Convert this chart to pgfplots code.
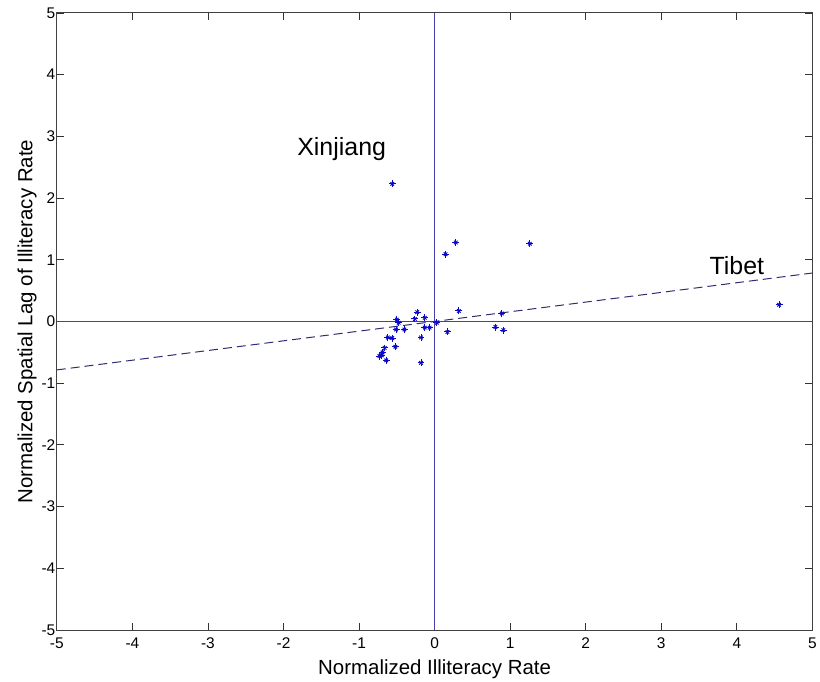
\documentclass[border=0pt]{standalone}
\usepackage{fontspec}
\setmainfont{Liberation Sans}
\usepackage{pgfplots}
\usepackage{pgfplotstable}
\pgfplotsset{compat=1.18}

\definecolor{linenavy}{RGB}{70,65,170}
\definecolor{dashnavy}{RGB}{45,45,115}
\definecolor{markblue}{RGB}{10,10,200}

\pgfplotstableread{
x y
-0.56 2.23
0.28 1.28
0.145 1.09
1.26 1.26
0.32 0.17
0.89 0.13
0.805 -0.09
0.91 -0.14
0.17 -0.17
0.03 -0.02
-0.066 -0.10
-0.13 -0.10
-0.13 0.06
-0.23 0.15
-0.26 0.04
-0.18 -0.26
-0.18 -0.67
-0.50 0.03
-0.475 -0.02
-0.40 -0.13
-0.51 -0.13
-0.62 -0.26
-0.56 -0.27
-0.52 -0.41
-0.66 -0.43
-0.69 -0.50
-0.73 -0.56
-0.64 -0.63
-0.70 -0.55
4.56 0.27
}\moran

\begin{document}
\begin{tikzpicture}
\begin{axis}[
  scale only axis,
  width=758pt, height=619pt,
  xmin=-5, xmax=5, ymin=-5, ymax=5,
  xtick={-5,...,5}, ytick={-5,...,5},
  tick align=inside, major tick length=7pt,
  tick style={black!80, line width=0.8pt},
  axis line style={black!75, line width=0.9pt},
  ticklabel style={font=\fontsize{15.5}{17}\selectfont},
  /pgf/number format/assume math mode=true,
  xticklabel style={yshift=-4pt},
  yticklabel style={xshift=2pt},
  xlabel={Normalized Illiteracy Rate},
  ylabel={Normalized Spatial Lag of Illiteracy Rate},
  label style={font=\fontsize{20.5}{22}\selectfont},
  xlabel style={yshift=-4pt},
  ylabel style={yshift=-2pt},
]
\addplot[linenavy, line width=1pt] coordinates {(0,-5)(0,5)};
\addplot[linenavy, line width=1pt] coordinates {(-5,0)(5,0)};
\addplot[dashnavy, line width=1pt, dash pattern=on 9pt off 5pt] coordinates {(-5,-0.785)(5,0.785)};
\addplot[only marks, mark=+, mark size=3.5pt, markblue, mark options={line width=1pt}] table[x=x,y=y] {\moran};
\addplot[only marks, mark=x, mark size=2.5pt, markblue, mark options={line width=1pt}] table[x=x,y=y] {\moran};
\node[font=\fontsize{25}{27}\selectfont] at (axis cs:-1.23,2.79) {Xinjiang};
\node[font=\fontsize{25}{27}\selectfont] at (axis cs:4.0,0.90) {Tibet};
\end{axis}
\path[use as bounding box] (current axis.south west) ++(-57pt,-51pt) rectangle ([shift={(5pt,13pt)}]current axis.north east);
\end{tikzpicture}
\end{document}
